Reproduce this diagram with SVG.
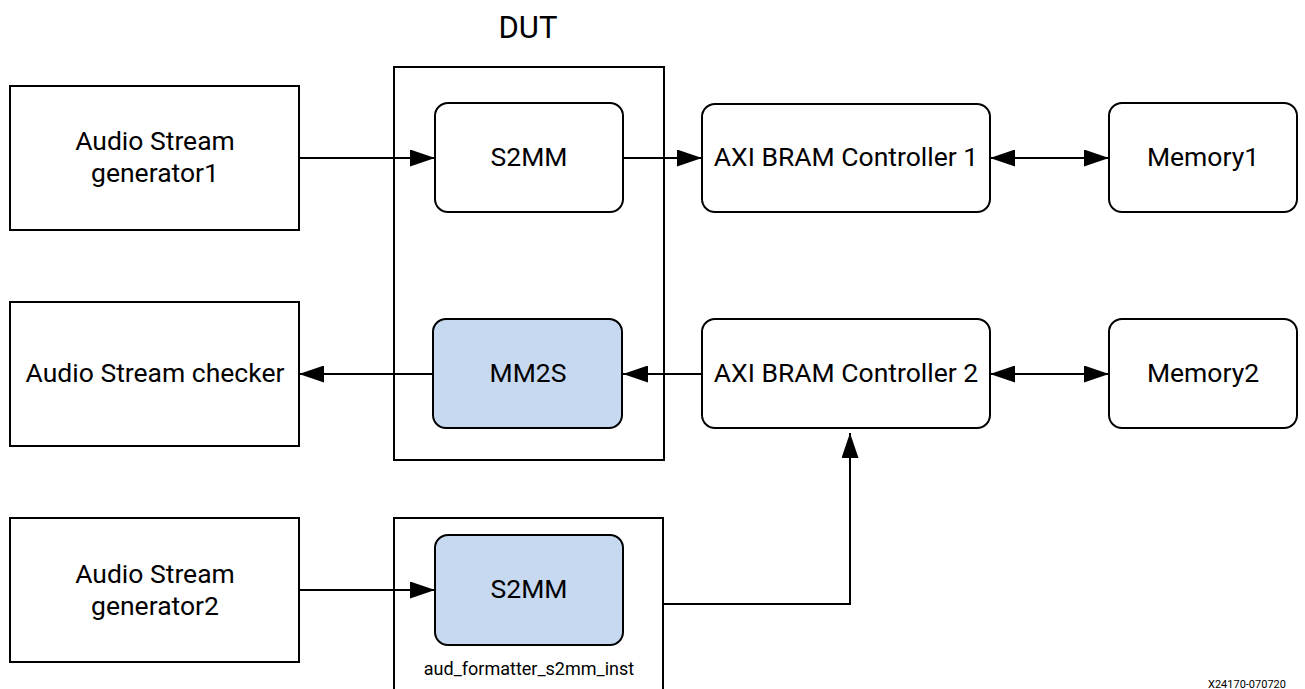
<svg xmlns="http://www.w3.org/2000/svg" width="1305" height="689" viewBox="0 0 1305 689">
<style>
.box{fill:#fff;stroke:#000;stroke-width:2}
.blue{fill:#c6d9f0;stroke:#000;stroke-width:2}
.t{font-family:Roboto,"Liberation Sans",sans-serif;font-size:26.5px;fill:#000;text-anchor:middle}
.s{font-family:Roboto,"Liberation Sans",sans-serif;font-size:18px;fill:#000;text-anchor:middle}
.c{fill:none;stroke:#000;stroke-width:2}
</style>
<defs>
<marker id="ah" markerUnits="userSpaceOnUse" markerWidth="25" markerHeight="17" refX="25" refY="8.5" orient="auto-start-reverse" viewBox="0 0 25 17">
<path d="M0,0 L25,8.5 L0,17 z" fill="#000"/>
</marker>
</defs>
<rect width="1305" height="689" fill="#fff"/>
<g id="dut">
<rect class="box" x="394" y="67" width="270" height="393"/>
<text class="t" x="528" y="38" style="font-size:31px">DUT</text>
</g>
<g id="inst">
<rect class="box" x="394" y="518" width="269" height="200"/>
<text class="s" x="529" y="675">aud_formatter_s2mm_inst</text>
</g>
<g id="gen1">
<rect class="box" x="10" y="86" width="289" height="144"/>
<text class="t" x="155" y="150">Audio Stream</text>
<text class="t" x="155" y="182">generator1</text>
</g>
<g id="checker">
<rect class="box" x="10" y="302" width="289" height="144"/>
<text class="t" x="155" y="382">Audio Stream checker</text>
</g>
<g id="gen2">
<rect class="box" x="10" y="518" width="289" height="144"/>
<text class="t" x="155" y="583">Audio Stream</text>
<text class="t" x="155" y="615">generator2</text>
</g>
<g id="s2mm1">
<rect class="box" x="435" y="103" width="188" height="109" rx="13"/>
<text class="t" x="529" y="166">S2MM</text>
</g>
<g id="mm2s">
<rect class="blue" x="433" y="319" width="189" height="109" rx="13"/>
<text class="t" x="528" y="382">MM2S</text>
</g>
<g id="s2mm2">
<rect class="blue" x="435" y="535" width="188" height="110" rx="13"/>
<text class="t" x="529" y="598">S2MM</text>
</g>
<g id="axi1">
<rect class="box" x="702" y="104" width="288" height="108" rx="13"/>
<text class="t" x="846" y="166">AXI BRAM Controller 1</text>
</g>
<g id="axi2">
<rect class="box" x="702" y="319" width="288" height="109" rx="13"/>
<text class="t" x="846" y="382">AXI BRAM Controller 2</text>
</g>
<g id="mem1">
<rect class="box" x="1109" y="103" width="188" height="109" rx="13"/>
<text class="t" x="1203" y="166">Memory1</text>
</g>
<g id="mem2">
<rect class="box" x="1109" y="319" width="188" height="109" rx="13"/>
<text class="t" x="1203" y="382">Memory2</text>
</g>
<g id="connectors">
<path class="c" d="M299,158 H435" marker-end="url(#ah)"/>
<path class="c" d="M623,158 H702" marker-end="url(#ah)"/>
<path class="c" d="M990,158 H1109" marker-start="url(#ah)" marker-end="url(#ah)"/>
<path class="c" d="M702,374 H623" marker-end="url(#ah)"/>
<path class="c" d="M433,374 H299" marker-end="url(#ah)"/>
<path class="c" d="M990,374 H1109" marker-start="url(#ah)" marker-end="url(#ah)"/>
<path class="c" d="M299,590 H435" marker-end="url(#ah)"/>
<path class="c" d="M663,604 H850 V433" marker-end="url(#ah)"/>
</g>
<text x="1208" y="688" style="font-family:Roboto,'Liberation Sans',sans-serif;font-size:11px;fill:#000">X24170-070720</text>
</svg>
